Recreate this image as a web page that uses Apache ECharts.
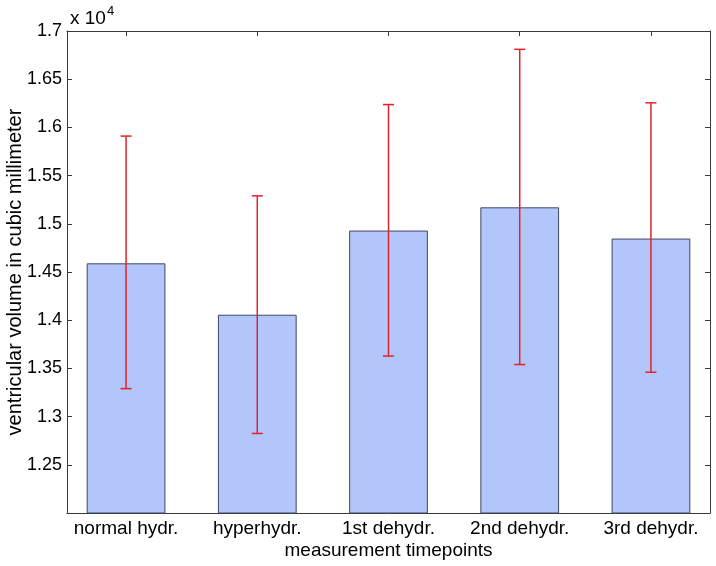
<!DOCTYPE html>
<html>
<head>
<meta charset="utf-8">
<script src="https://cdn.jsdelivr.net/npm/echarts@6/dist/echarts.min.js"></script>
<style>html,body{margin:0;padding:0;background:#fff}#c{width:716px;height:566px}</style>
</head>
<body>
<div id="c"></div>
<script>
const categories = ['normal hydr.', 'hyperhydr.', '1st dehydr.', '2nd dehydr.', '3rd dehydr.'];
const positions = [1, 2, 3, 4, 5];
const means = [14590, 14057, 14930, 15171, 14847];
const errHigh = [15910, 15290, 16237, 16810, 16255];
const errLow = [13290, 12825, 13628, 13540, 13460];

const FONT = 'Liberation Sans';
const AX = '#3a3a3a';
const chart = echarts.init(document.getElementById('c'), null, {renderer: 'canvas'});

const gridW = 716 - 67 - 6;
const barW = 0.6 * gridW / 4.9;

const xBase = {
  type: 'value', min: 0.55, max: 5.45,
  axisLine: {show: true, lineStyle: {color: AX, width: 1}},
  axisTick: {show: true, inside: true, length: 5, customValues: positions, lineStyle: {color: AX}},
  splitLine: {show: false}
};
const yBase = {
  type: 'value', min: 12000, max: 17000, interval: 500,
  axisLine: {show: true, lineStyle: {color: AX, width: 1}},
  axisTick: {show: true, inside: true, length: 5, lineStyle: {color: AX}},
  splitLine: {show: false}
};

chart.setOption({
  animation: false,
  backgroundColor: '#fff',
  textStyle: {fontFamily: FONT},
  title: {
    text: 'x 10{s|4}', left: 65, top: 0,
    textStyle: {fontFamily: FONT, fontSize: 19, fontWeight: 'normal', color: '#000',
      rich: {s: {fontSize: 13, verticalAlign: 'top', padding: [0,0,14,1], fontFamily: FONT, color: '#000'}}}
  },
  grid: {left: 67, right: 6, top: 31, bottom: 53, containLabel: false, outerBoundsMode: 'none'},
  xAxis: [
    Object.assign({}, xBase, {
      position: 'bottom',
      axisLabel: {show: true, customValues: positions, fontSize: 19, color: '#000', fontFamily: FONT, margin: 6,
        formatter: v => categories[Math.round(v) - 1] || ''},
      name: 'measurement timepoints', nameLocation: 'middle', nameGap: 28, nameMoveOverlap: false,
      nameTextStyle: {fontSize: 19, color: '#000', fontFamily: FONT}
    }),
    Object.assign({}, xBase, {position: 'top', axisLabel: {show: false}})
  ],
  yAxis: [
    Object.assign({}, yBase, {
      position: 'left',
      axisLabel: {show: true, fontSize: 18, color: '#000', fontFamily: FONT, margin: 5,
        formatter: v => (v === 12000 ? '' : String(v / 10000))},
      name: 'ventricular volume in cubic millimeter', nameLocation: 'middle', nameGap: 42, nameMoveOverlap: false,
      nameTextStyle: {fontSize: 20, color: '#000', fontFamily: FONT}
    }),
    Object.assign({}, yBase, {position: 'right', axisLabel: {show: false}})
  ],
  series: [
    {
      type: 'bar', xAxisIndex: 0, yAxisIndex: 0,
      data: positions.map((p, i) => [p, means[i]]),
      barWidth: barW,
      itemStyle: {color: '#b3c6fb', borderColor: '#3e4862', borderWidth: 1}
    },
    {
      type: 'custom', xAxisIndex: 0, yAxisIndex: 0, z: 10,
      data: positions.map((p, i) => [p, errLow[i], errHigh[i]]),
      renderItem: function (params, api) {
        const x = api.value(0);
        const lo = api.coord([x, api.value(1)]);
        const hi = api.coord([x, api.value(2)]);
        const c = 5.5;
        const st = {stroke: '#e3212b', lineWidth: 1.5};
        return {type: 'group', children: [
          {type: 'line', shape: {x1: hi[0], y1: hi[1], x2: lo[0], y2: lo[1]}, style: st},
          {type: 'line', shape: {x1: hi[0] - c, y1: hi[1], x2: hi[0] + c, y2: hi[1]}, style: st},
          {type: 'line', shape: {x1: lo[0] - c, y1: lo[1], x2: lo[0] + c, y2: lo[1]}, style: st}
        ]};
      }
    }
  ]
});
</script>
</body>
</html>
